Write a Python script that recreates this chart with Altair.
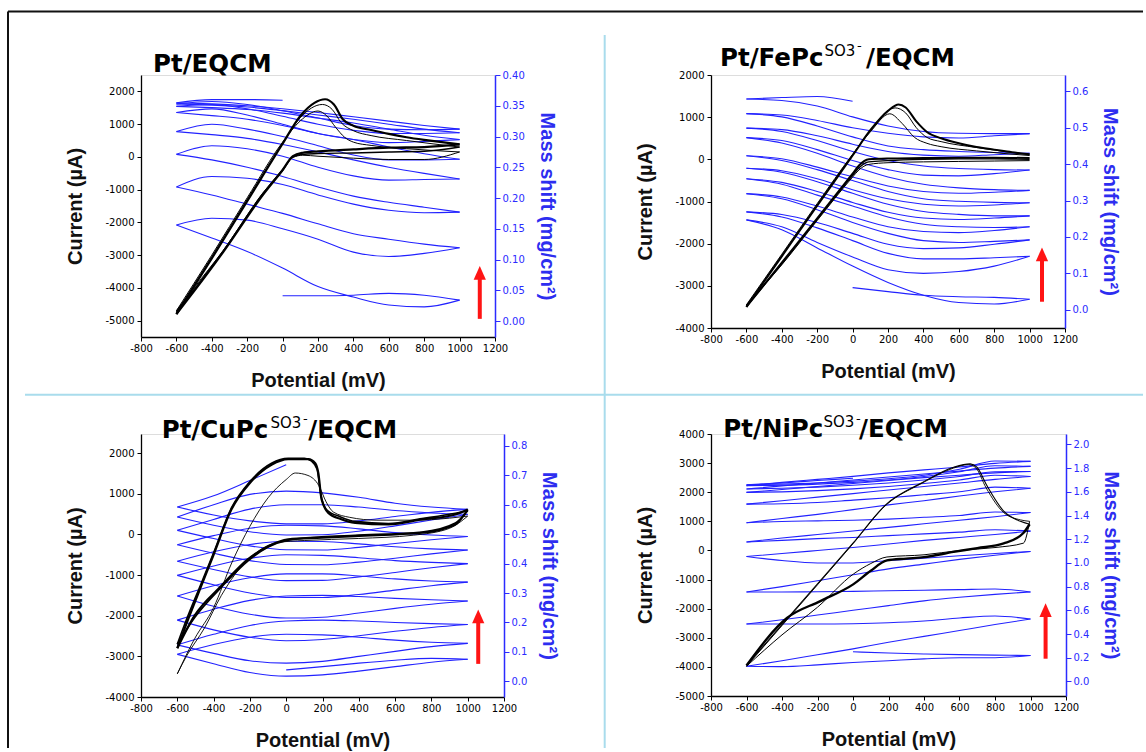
import altair as alt
import pandas as pd

# ---------------- shared axes values ----------------
X_TICKS = [-800, -600, -400, -200, 0, 200, 400, 600, 800, 1000, 1200]
P9 = [-600, -400, -200, 0, 200, 400, 600, 800, 1000]
P_START = [0, 200, 400, 600, 800, 1000]
P_END = [-600, -400, -200, 0]

# ---------------- Panel 1 : Pt/EQCM ----------------
PT_Y_TICKS = [-5000, -4000, -3000, -2000, -1000, 0, 1000, 2000]
PT_M_TICKS = [0.0, 0.05, 0.10, 0.15, 0.20, 0.25, 0.30, 0.35, 0.40]
PT_CV_UP_P = [
    [-600, -400, -200, 0, 100, 180, 240, 290, 340, 400, 500, 600, 700, 800, 900, 1000],
    [-600, -400, -200, 0, 100, 200, 250, 300, 350, 400, 500, 700, 1000],
    [-600, -400, -200, 0, 100, 225, 280, 330, 400, 500, 700, 1000],
]
PT_CV_UP_I = [
    [-4800, -3100, -1350, 400, 1250, 1650, 1760, 1600, 1150, 950, 820, 700, 600, 520, 450, 380],
    [-4700, -3000, -1250, 450, 1100, 1400, 1250, 900, 600, 450, 350, 250, 150],
    [-4750, -3050, -1300, 420, 1200, 1600, 1450, 1050, 800, 650, 500, 300],
]
PT_CV_LO_P = [
    [-600, -500, -335, -111, 0, 58, 114, 200, 400, 600, 800, 1000],
    [-600, -500, -335, -111, 0, 58, 114, 200, 400, 600, 800, 1000],
    [-600, -500, -335, -111, 0, 58, 114, 200, 400, 600, 800, 1000],
]
PT_CV_LO_I = [
    [-4800, -4100, -2900, -1157, -400, 22, 125, 170, 230, 280, 300, 380],
    [-4700, -4000, -2850, -1100, -380, -20, 50, 20, -40, -80, -80, 150],
    [-4750, -4050, -2880, -1120, -420, 0, 80, 100, 120, 150, 170, 300],
]
PT_CV_UP_W = [2.2, 1.0, 1.0]
PT_CV_LO_W = [2.2, 1.0, 1.4]
PT_MASS_START = [0.041, 0.041, 0.042, 0.045, 0.042, 0.034]
PT_MASS_SWEEPS = [
    [0.156, 0.135, 0.113, 0.086, 0.056, 0.039, 0.026, 0.023, 0.034],
    [0.156, 0.167, 0.164, 0.150, 0.133, 0.112, 0.105, 0.110, 0.119],
    [0.218, 0.205, 0.190, 0.175, 0.158, 0.142, 0.133, 0.125, 0.119],
    [0.218, 0.235, 0.232, 0.222, 0.205, 0.190, 0.180, 0.176, 0.177],
    [0.271, 0.262, 0.250, 0.235, 0.218, 0.203, 0.193, 0.185, 0.177],
    [0.271, 0.285, 0.280, 0.268, 0.250, 0.236, 0.229, 0.230, 0.231],
    [0.308, 0.303, 0.297, 0.287, 0.275, 0.262, 0.250, 0.240, 0.231],
    [0.308, 0.320, 0.312, 0.300, 0.285, 0.270, 0.262, 0.262, 0.263],
    [0.339, 0.334, 0.328, 0.318, 0.305, 0.295, 0.283, 0.272, 0.263],
    [0.339, 0.345, 0.335, 0.320, 0.305, 0.295, 0.290, 0.292, 0.295],
    [0.349, 0.347, 0.344, 0.338, 0.330, 0.322, 0.312, 0.302, 0.295],
    [0.349, 0.352, 0.345, 0.333, 0.320, 0.310, 0.305, 0.305, 0.306],
    [0.353, 0.351, 0.348, 0.342, 0.335, 0.328, 0.320, 0.312, 0.306],
    [0.353, 0.357, 0.352, 0.342, 0.330, 0.318, 0.312, 0.311, 0.312],
    [0.355, 0.353, 0.350, 0.345, 0.339, 0.332, 0.325, 0.318, 0.312],
]
PT_MASS_END = [0.355, 0.360, 0.360, 0.359]

# ---------------- Panel 2 : Pt/FePc(SO3-)/EQCM ----------------
FE_Y_TICKS = [-4000, -3000, -2000, -1000, 0, 1000, 2000]
FE_M_TICKS = [0.0, 0.1, 0.2, 0.3, 0.4, 0.5, 0.6]
FE_CV_UP_P = [
    [-600, -400, -200, 0, 100, 200, 260, 300, 360, 420, 500, 600, 700, 800, 900, 1000],
    [-600, -400, -200, 0, 100, 210, 280, 350, 420, 500, 700, 1000],
    [-600, -400, -200, 0, 100, 240, 300, 360, 420, 500, 700, 1000],
]
FE_CV_UP_I = [
    [-3500, -2300, -1100, 90, 690, 1150, 1300, 1230, 900, 650, 500, 380, 290, 230, 170, 120],
    [-3450, -2250, -1050, 120, 650, 1080, 850, 520, 380, 300, 200, 90],
    [-3480, -2280, -1080, 110, 680, 1220, 1100, 750, 520, 420, 280, 110],
]
FE_CV_LO_P = [
    [-600, -400, -200, 0, 36, 92, 200, 400, 600, 800, 1000],
    [-600, -400, -200, 0, 36, 92, 200, 400, 600, 800, 1000],
    [-600, -400, -200, 0, 36, 92, 200, 400, 600, 800, 1000],
]
FE_CV_LO_I = [
    [-3500, -2450, -1400, -340, -148, 0, 20, 30, 40, 40, 30],
    [-3450, -2500, -1450, -420, -250, -120, -80, -60, -50, -40, -30],
    [-3480, -2480, -1420, -380, -200, -60, -30, 0, 10, 10, 0],
]
FE_CV_UP_W = [2.0, 1.0, 1.0]
FE_CV_LO_W = [2.0, 1.0, 1.4]
FE_MASS_START = [0.061, 0.050, 0.040, 0.036, 0.034, 0.029]
FE_MASS_SWEEPS = [
    [0.247, 0.220, 0.170, 0.120, 0.075, 0.040, 0.020, 0.016, 0.029],
    [0.247, 0.228, 0.185, 0.145, 0.110, 0.100, 0.105, 0.120, 0.147],
    [0.269, 0.255, 0.225, 0.190, 0.155, 0.140, 0.140, 0.143, 0.147],
    [0.269, 0.262, 0.240, 0.210, 0.180, 0.168, 0.170, 0.180, 0.192],
    [0.319, 0.305, 0.275, 0.240, 0.210, 0.190, 0.185, 0.188, 0.192],
    [0.319, 0.310, 0.285, 0.255, 0.228, 0.215, 0.212, 0.218, 0.228],
    [0.360, 0.345, 0.315, 0.285, 0.255, 0.235, 0.228, 0.226, 0.228],
    [0.360, 0.350, 0.325, 0.295, 0.268, 0.252, 0.248, 0.252, 0.258],
    [0.389, 0.378, 0.352, 0.320, 0.290, 0.270, 0.262, 0.258, 0.258],
    [0.389, 0.382, 0.360, 0.330, 0.305, 0.290, 0.285, 0.288, 0.294],
    [0.423, 0.410, 0.385, 0.355, 0.325, 0.305, 0.298, 0.295, 0.294],
    [0.423, 0.415, 0.392, 0.365, 0.340, 0.325, 0.320, 0.323, 0.328],
    [0.473, 0.458, 0.430, 0.395, 0.365, 0.345, 0.335, 0.330, 0.328],
    [0.473, 0.465, 0.440, 0.410, 0.385, 0.370, 0.368, 0.374, 0.384],
    [0.499, 0.490, 0.465, 0.435, 0.410, 0.395, 0.388, 0.385, 0.384],
    [0.499, 0.495, 0.478, 0.455, 0.435, 0.425, 0.422, 0.426, 0.430],
    [0.539, 0.530, 0.505, 0.475, 0.450, 0.440, 0.435, 0.432, 0.430],
    [0.539, 0.535, 0.520, 0.500, 0.485, 0.475, 0.472, 0.478, 0.484],
    [0.579, 0.575, 0.560, 0.530, 0.505, 0.490, 0.485, 0.484, 0.484],
]
FE_MASS_END = [0.579, 0.583, 0.586, 0.573]

# ---------------- Panel 3 : Pt/CuPc(SO3-)/EQCM ----------------
CU_Y_TICKS = [-4000, -3000, -2000, -1000, 0, 1000, 2000]
CU_M_TICKS = [0.0, 0.1, 0.2, 0.3, 0.4, 0.5, 0.6, 0.7, 0.8]
CU_CV_UP_P = [
    [-600, -550, -468, -400, -302, -200, -81, 11, 122, 160, 177, 195, 232, 300, 380, 564, 748, 932, 1000],
    [-600, -550, -468, -400, -302, -200, -81, 11, 100, 140, 170, 190, 220, 300, 380, 564, 748, 932, 1000],
    [-600, -505, -400, -300, -200, -100, 0, 50, 120, 180, 220, 260, 350, 500, 700, 900, 1000],
]
CU_CV_UP_I = [
    [-2800, -2200, -1265, -500, 612, 1265, 1714, 1853, 1853, 1750, 1510, 857, 530, 380, 285, 245, 367, 490, 612],
    [-2700, -2100, -1200, -450, 650, 1300, 1750, 1870, 1870, 1800, 1600, 1000, 620, 430, 320, 270, 390, 520, 580],
    [-3430, -2570, -1800, -700, 200, 900, 1350, 1510, 1450, 1200, 800, 550, 420, 350, 350, 400, 450],
]
CU_CV_LO_P = [
    [-600, -505, -357, -210, -99, 11, 195, 380, 748, 932, 1000],
    [-600, -505, -357, -210, -99, 11, 195, 380, 748, 932, 1000],
    [-600, -550, -450, -357, -250, -150, -50, 100, 400, 700, 900, 1000],
]
CU_CV_LO_I = [
    [-2800, -2000, -1265, -610, -290, -120, -80, -40, 40, 245, 612],
    [-2700, -2050, -1300, -650, -310, -140, -60, -20, 60, 280, 580],
    [-3430, -3000, -2300, -1500, -800, -400, -200, -150, -100, -20, 150, 450],
]
CU_CV_UP_W = [2.2, 1.6, 0.9]
CU_CV_LO_W = [2.2, 1.6, 0.9]
CU_MASS_START = [0.039, 0.050, 0.062, 0.072, 0.078, 0.075]
CU_MASS_SWEEPS = [
    [0.092, 0.060, 0.030, 0.018, 0.022, 0.035, 0.050, 0.065, 0.075],
    [0.092, 0.125, 0.150, 0.160, 0.158, 0.150, 0.140, 0.133, 0.129],
    [0.124, 0.095, 0.070, 0.062, 0.068, 0.085, 0.102, 0.118, 0.129],
    [0.124, 0.160, 0.190, 0.205, 0.208, 0.205, 0.200, 0.196, 0.193],
    [0.208, 0.175, 0.150, 0.138, 0.142, 0.155, 0.170, 0.183, 0.193],
    [0.208, 0.245, 0.275, 0.290, 0.292, 0.288, 0.282, 0.277, 0.273],
    [0.290, 0.255, 0.228, 0.215, 0.218, 0.232, 0.248, 0.262, 0.273],
    [0.290, 0.325, 0.352, 0.365, 0.365, 0.358, 0.348, 0.341, 0.337],
    [0.360, 0.328, 0.300, 0.285, 0.285, 0.295, 0.310, 0.325, 0.337],
    [0.360, 0.392, 0.418, 0.430, 0.428, 0.420, 0.410, 0.404, 0.400],
    [0.408, 0.380, 0.355, 0.342, 0.343, 0.355, 0.370, 0.386, 0.400],
    [0.408, 0.440, 0.465, 0.476, 0.475, 0.467, 0.457, 0.450, 0.446],
    [0.464, 0.435, 0.410, 0.397, 0.396, 0.405, 0.418, 0.433, 0.446],
    [0.464, 0.495, 0.520, 0.530, 0.528, 0.518, 0.505, 0.497, 0.492],
    [0.513, 0.485, 0.460, 0.447, 0.446, 0.455, 0.468, 0.481, 0.492],
    [0.513, 0.550, 0.585, 0.600, 0.600, 0.592, 0.580, 0.572, 0.567],
    [0.558, 0.530, 0.508, 0.497, 0.498, 0.510, 0.528, 0.548, 0.567],
    [0.558, 0.600, 0.635, 0.646, 0.640, 0.625, 0.605, 0.592, 0.584],
    [0.592, 0.565, 0.545, 0.535, 0.535, 0.545, 0.560, 0.574, 0.584],
]
CU_MASS_END = [0.592, 0.630, 0.682, 0.736]

# ---------------- Panel 4 : Pt/NiPc(SO3-)/EQCM ----------------
NI_Y_TICKS = [-5000, -4000, -3000, -2000, -1000, 0, 1000, 2000, 3000, 4000]
NI_M_TICKS = [0.0, 0.2, 0.4, 0.6, 0.8, 1.0, 1.2, 1.4, 1.6, 1.8, 2.0]
NI_CV_UP_P = [
    [-600, -400, -200, 0, 190, 380, 567, 660, 698, 755, 849, 943, 995],
    [-600, -400, -200, 0, 190, 380, 567, 650, 690, 750, 849, 943, 995],
]
NI_CV_UP_I = [
    [-3950, -2550, -1150, 250, 1600, 2300, 2860, 2975, 2860, 2220, 1350, 1000, 900],
    [-3980, -2580, -1180, 230, 1580, 2280, 2830, 2950, 2850, 2150, 1300, 1050, 1000],
]
NI_CV_LO_P = [
    [-600, -372, -184, 3, 100, 191, 300, 400, 567, 700, 849, 960, 995],
    [-600, -400, -200, 3, 100, 191, 400, 600, 800, 960, 995],
]
NI_CV_LO_I = [
    [-3950, -2321, -1739, -1157, -700, -342, -280, -230, -51, 80, 240, 600, 900],
    [-3980, -2900, -1950, -807, -450, -225, -150, 0, 100, 250, 1000],
]
NI_CV_UP_W = [1.1, 0.9]
NI_CV_LO_W = [2.4, 1.0]
NI_MASS_START = [0.250, 0.240, 0.232, 0.226, 0.222, 0.219]
NI_MASS_SWEEPS = [
    [0.128, 0.125, 0.140, 0.160, 0.175, 0.190, 0.200, 0.200, 0.219],
    [0.128, 0.175, 0.225, 0.275, 0.330, 0.380, 0.430, 0.480, 0.527],
    [0.484, 0.484, 0.484, 0.487, 0.495, 0.510, 0.535, 0.552, 0.527],
    [0.484, 0.520, 0.560, 0.600, 0.640, 0.680, 0.710, 0.735, 0.755],
    [0.755, 0.755, 0.757, 0.760, 0.765, 0.770, 0.775, 0.780, 0.755],
    [0.755, 0.800, 0.850, 0.900, 0.950, 0.990, 1.030, 1.065, 1.097],
    [1.054, 1.020, 1.000, 1.000, 1.020, 1.040, 1.060, 1.080, 1.097],
    [1.054, 1.080, 1.105, 1.130, 1.160, 1.190, 1.215, 1.240, 1.268],
    [1.177, 1.190, 1.205, 1.215, 1.230, 1.245, 1.260, 1.280, 1.268],
    [1.177, 1.210, 1.240, 1.270, 1.300, 1.330, 1.360, 1.390, 1.425],
    [1.339, 1.350, 1.355, 1.360, 1.370, 1.385, 1.400, 1.430, 1.425],
    [1.339, 1.375, 1.410, 1.450, 1.490, 1.525, 1.565, 1.600, 1.630],
    [1.496, 1.500, 1.510, 1.530, 1.550, 1.575, 1.600, 1.640, 1.630],
    [1.496, 1.525, 1.555, 1.585, 1.615, 1.645, 1.675, 1.705, 1.729],
    [1.595, 1.600, 1.610, 1.625, 1.645, 1.670, 1.700, 1.740, 1.729],
    [1.595, 1.620, 1.645, 1.670, 1.695, 1.720, 1.740, 1.760, 1.772],
    [1.624, 1.630, 1.640, 1.655, 1.675, 1.700, 1.730, 1.770, 1.772],
    [1.624, 1.650, 1.675, 1.700, 1.725, 1.750, 1.775, 1.800, 1.815],
    [1.652, 1.655, 1.665, 1.680, 1.700, 1.730, 1.770, 1.820, 1.815],
    [1.652, 1.680, 1.705, 1.730, 1.760, 1.785, 1.810, 1.840, 1.857],
    [1.660, 1.665, 1.675, 1.690, 1.710, 1.740, 1.790, 1.860, 1.857],
]
NI_MASS_END = [1.660, 1.675, 1.695, 1.715]

# red arrows (potential, tail current, head-centre current) per panel
ARROW_POT = [1114, 1070, 1058, 1085]
ARROW_TAIL = [-4946, -3377, -3185, -3719]
ARROW_HEAD = [-3562, -2270, -2034, -2078]

BLUE = "#2222ff"
AXIS_BLUE = "#2b2bff"
RED = "#ff1414"
CYAN = "#a9dcec"
LABEL_FONT = "DejaVu Sans"
TITLE_FONT = "Liberation Sans"
HEAD_FONT = "DejaVu Sans"
MINUS_FIX = "replace(format(datum.value, 'd'), '\u2212', '-')"


def cv_frame(up_p, up_i, lo_p, lo_i, up_w, lo_w):
    rows = []
    for k in range(len(up_p)):
        for p, c in zip(up_p[k], up_i[k]):
            rows.append({"pot": p, "cur": c, "branch": f"u{k}", "sw": up_w[k]})
        for p, c in zip(lo_p[k], lo_i[k]):
            rows.append({"pot": p, "cur": c, "branch": f"l{k}", "sw": lo_w[k]})
    return pd.DataFrame(rows)


def mass_frame(start, sweeps, end):
    rows = [{"pot": p, "mass": m, "sweep": 0} for p, m in zip(P_START, start)]
    for k, s in enumerate(sweeps, 1):
        rows += [{"pot": p, "mass": m, "sweep": k} for p, m in zip(P9, s)]
    k = len(sweeps) + 1
    rows += [{"pot": p, "mass": m, "sweep": k} for p, m in zip(P_END, end)]
    return pd.DataFrame(rows)


ONE = pd.DataFrame({"a": [0]})


def text_mark(txt, x, y, size, weight="bold"):
    return alt.Chart(ONE).mark_text(
        font=HEAD_FONT, fontSize=size, fontWeight=weight, align="left",
        baseline="alphabetic", color="black"
    ).encode(x=alt.value(x), y=alt.value(y), text=alt.value(txt))


def title_marks(parts):
    marks = []
    main, mx, my = parts[0]
    marks.append(text_mark(main, mx, my, 24.5))
    if len(parts) > 1:
        (sup, sx, sy), (mn, nx, ny), (tail, tx, ty) = parts[1], parts[2], parts[3]
        marks.append(text_mark(sup, sx, sy, 15, "normal"))
        marks.append(text_mark(mn, nx, ny, 13, "normal"))
        marks.append(text_mark(tail, tx, ty, 24.5))
    return marks


def panel(idx, cv, mass, ydom, yticks, mdom, mticks, mfmt, w, h, tparts, extra=()):
    x = alt.X(
        "pot:Q",
        scale=alt.Scale(domain=[-800, 1200], nice=False, zero=False),
        axis=alt.Axis(
            values=X_TICKS, labelExpr=MINUS_FIX, title="Potential (mV)",
            labelFont=LABEL_FONT, labelFontSize=10, labelColor="black",
            labelFlush=False, labelOverlap=False, labelPadding=2,
            tickSize=4, tickColor="black", domainColor="black", domainWidth=1.3,
            titleFont=TITLE_FONT, titleFontSize=20, titleFontWeight="bold",
            titleColor="#111111", titlePadding=17, grid=False,
        ),
    )
    yscale = alt.Scale(domain=ydom, nice=False, zero=False)
    yaxis = alt.Axis(
        orient="left", values=yticks, labelExpr=MINUS_FIX, title="Current (µA)",
        labelFont=LABEL_FONT, labelFontSize=10, labelColor="black",
        labelFlush=False, labelOverlap=False, labelPadding=3,
        tickSize=4, tickColor="black", domainColor="black", domainWidth=1.3,
        titleFont=TITLE_FONT, titleFontSize=20, titleFontWeight="bold",
        titleColor="#111111", titlePadding=19, grid=False,
    )
    black = alt.Chart(cv).mark_line(color="black", interpolate="monotone").encode(
        x=x,
        y=alt.Y("cur:Q", scale=yscale, axis=yaxis, title="Current (µA)"),
        detail="branch:N",
        strokeWidth=alt.StrokeWidth("sw:Q", scale=None, legend=None),
    )
    adf = pd.DataFrame({"pot": [ARROW_POT[idx]], "cur": [ARROW_TAIL[idx]], "cur2": [ARROW_HEAD[idx]]})
    rule = alt.Chart(adf).mark_rule(color=RED, strokeWidth=4).encode(
        x=x, y=alt.Y("cur:Q", scale=yscale, axis=yaxis, title="Current (µA)"), y2="cur2:Q"
    )
    head = alt.Chart(adf).mark_point(
        shape="M-1,1L0,-1.25L1,1Z", filled=True, size=150, color=RED, opacity=1, strokeWidth=0
    ).encode(x=x, y=alt.Y("cur2:Q", scale=yscale, axis=yaxis, title="Current (µA)"))
    left = alt.layer(black, rule, head)
    blue = alt.Chart(mass).mark_line(color=BLUE, strokeWidth=1.1, interpolate="monotone").encode(
        x=x,
        y=alt.Y(
            "mass:Q", scale=alt.Scale(domain=mdom, nice=False, zero=False),
            axis=alt.Axis(
                orient="right", values=mticks, format=mfmt, title="Mass shift (mg/cm²)",
                labelFont=LABEL_FONT, labelFontSize=10, labelColor=AXIS_BLUE,
                labelFlush=False, labelOverlap=False, labelPadding=2,
                tickSize=5, tickColor=AXIS_BLUE, domainColor=AXIS_BLUE, domainWidth=1.5,
                titleFont=TITLE_FONT, titleFontSize=20, titleFontWeight="bold",
                titleColor="#2d2df0", titlePadding=12, grid=False,
            ),
        ),
        detail="sweep:N",
    )
    layers = [blue, left] + title_marks(tparts) + list(extra)
    return alt.layer(*layers).resolve_scale(y="independent").properties(width=w, height=h)


def hline(x1, x2, y, color, sw):
    return alt.Chart(ONE).mark_rule(color=color, strokeWidth=sw).encode(
        x=alt.value(x1), x2=alt.value(x2), y=alt.value(y))


def vline(x, y1, y2, color, sw):
    return alt.Chart(ONE).mark_rule(color=color, strokeWidth=sw).encode(
        x=alt.value(x), y=alt.value(y1), y2=alt.value(y2))


# page decorations (relative to first panel's plot origin)
decor = [
    vline(463.7, -40, 673, CYAN, 2),
    hline(-116, 1002, 319.7, CYAN, 2),
    hline(-133, 1002, -63.5, "#111111", 2),
    vline(-133, -63.5, 673, "#111111", 2),
]

p1 = panel(
    0, cv_frame(PT_CV_UP_P, PT_CV_UP_I, PT_CV_LO_P, PT_CV_LO_I, PT_CV_UP_W, PT_CV_LO_W),
    mass_frame(PT_MASS_START, PT_MASS_SWEEPS, PT_MASS_END),
    [-5500, 2500], PT_Y_TICKS, [-0.026, 0.40], PT_M_TICKS, ".2f", 354, 262,
    [("Pt/EQCM", 12, -3)], extra=decor,
)
p2 = panel(
    1, cv_frame(FE_CV_UP_P, FE_CV_UP_I, FE_CV_LO_P, FE_CV_LO_I, FE_CV_UP_W, FE_CV_LO_W),
    mass_frame(FE_MASS_START, FE_MASS_SWEEPS, FE_MASS_END),
    [-4000, 2000], FE_Y_TICKS, [-0.05, 0.645], FE_M_TICKS, ".1f", 354, 253,
    [("Pt/FePc", 9, -9.3), ("SO3", 113.5, -19), ("-", 146, -25), ("/EQCM", 155, -9.3)],
)
p3 = panel(
    2, cv_frame(CU_CV_UP_P, CU_CV_UP_I, CU_CV_LO_P, CU_CV_LO_I, CU_CV_UP_W, CU_CV_LO_W),
    mass_frame(CU_MASS_START, CU_MASS_SWEEPS, CU_MASS_END),
    [-4000, 2470], CU_Y_TICKS, [-0.053, 0.84], CU_M_TICKS, ".1f", 363, 263,
    [("Pt/CuPc", 20.7, 4), ("SO3", 129.5, -6), ("-", 162, -11), ("/EQCM", 167.3, 4)],
)
p4 = panel(
    3, cv_frame(NI_CV_UP_P, NI_CV_UP_I, NI_CV_LO_P, NI_CV_LO_I, NI_CV_UP_W, NI_CV_LO_W),
    mass_frame(NI_MASS_START, NI_MASS_SWEEPS, NI_MASS_END),
    [-5000, 4000], NI_Y_TICKS, [-0.123, 2.088], NI_M_TICKS, ".1f", 355, 262,
    [("Pt/NiPc", 12.3, 3.3), ("SO3", 112.5, -6.7), ("-", 145, -11), ("/EQCM", 148, 3.3)],
)

chart = alt.concat(
    p1, p2, p3, p4, columns=2, spacing={"row": 97, "column": 207}, bounds="flush"
).properties(
    padding={"left": 6, "top": 10, "right": 0, "bottom": 0}
).configure_view(stroke=None).configure(background="white")

chart.save("out.html", embed_options={"renderer": "svg", "actions": False})
